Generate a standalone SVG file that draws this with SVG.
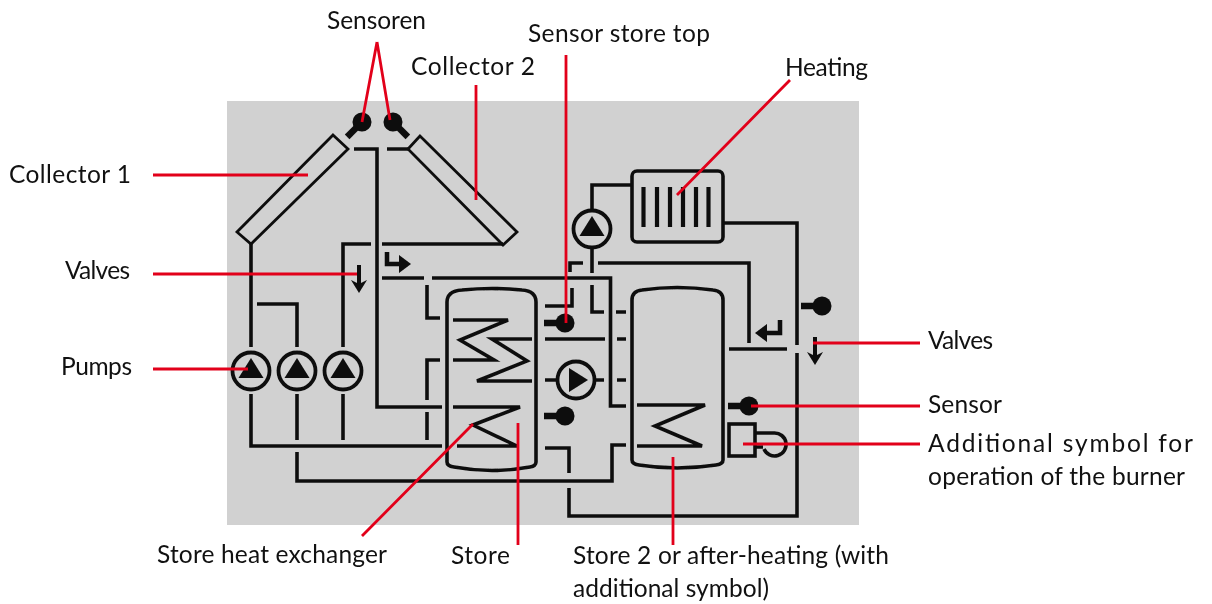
<svg xmlns="http://www.w3.org/2000/svg" width="1212" height="604" viewBox="0 0 1212 604">
<style>
.p{fill:none;stroke:#111;stroke-width:3.6}
.t{fill:none;stroke:#111;stroke-width:2.8}
.f{fill:#0a0a0a;stroke:none}
.s{fill:none;stroke:#0a0a0a;stroke-width:4}
.r{fill:none;stroke:#e2001a;stroke-width:2.8}
text{font-family:"Lato","Open Sans",sans-serif;font-size:24.5px;fill:#111}
</style>
<defs>
<filter id="b" x="-5%" y="-5%" width="110%" height="110%"><feGaussianBlur stdDeviation="0.55"/></filter>
<g id="pump"><circle r="18.500" fill="none" stroke="#111" stroke-width="3.800"/><path class="f" d="M0-13L12.500 7H-12.500Z"/></g>
<g id="sens"><circle r="9.500" class="f"/><path d="M0 0H-21" stroke="#0a0a0a" stroke-width="6.500" fill="none"/></g>
</defs>
<rect x="227" y="101" width="632" height="424" fill="#d1d1d1"/>
<g filter="url(#b)">
<g id="collector1"><path class="t" d="M333 135L348 149L251 244L237 232Z"/></g>
<g id="collector2"><path class="t" d="M420 136L408 149L503 245L517 232Z"/></g>
<g id="sensor-c1"><use href="#sens" transform="translate(362 122) rotate(-45)"/></g>
<g id="sensor-c2"><use href="#sens" transform="translate(393 122) rotate(225)"/></g>
<g id="sensor-store-top"><use href="#sens" transform="translate(565 323)"/></g>
<g id="sensor-store-mid"><use href="#sens" transform="translate(565 416)"/></g>
<g id="sensor-store2"><use href="#sens" transform="translate(749 406)"/></g>
<g id="sensor-right"><use href="#sens" transform="translate(822 306)"/></g>
<g id="pump1"><use href="#pump" x="251" y="371"/></g>
<g id="pump2"><use href="#pump" x="297" y="371"/></g>
<g id="pump3"><use href="#pump" x="343" y="371"/></g>
<g id="pump-heating"><use href="#pump" x="592" y="229"/></g>
<g id="pump-transfer"><circle cx="576" cy="380" r="18.500" fill="none" stroke="#111" stroke-width="3.800"/><path class="f" d="M569 368L588 380L569 392Z"/></g>
<g id="store"><path class="p" d="M447 462V302Q447 291 462 290Q492 287 522 290Q536 291 536 302V462Q536 466 530 467Q492 474 454 467Q447 466 447 462Z"/></g>
<g id="store2"><path class="p" d="M632 460V300Q632 291 642 290Q677 285 713 290Q723 291 723 300V460Q723 464 716 465Q677 471 639 465Q632 464 632 460Z"/></g>
<g id="heating"><rect x="632" y="171" width="91" height="71" rx="5" class="p"/><path class="p" d="M643.500 187V227M657 187V227M670 187V227M683 187V227M696 187V227M708.500 187V227" style="stroke-width:4.200"/></g>
<g id="burner"><rect x="729" y="424" width="26" height="32" class="p"/><path class="p" d="M755 433H774A11.500 11.500 0 1 1 764 449M755 447H763"/></g>
<g id="valve-left"><path class="s" d="M359 265V286"/><path class="f" d="M351 280L359 284L367 280L359 293Z"/></g>
<g id="valve-top"><path class="p" d="M387 252V264H402" style="stroke-width:4.500"/><path class="f" d="M399 255L411 264L399 273Z"/></g>
<g id="valve-right1"><path class="p" d="M780 320V333H764" style="stroke-width:4.500"/><path class="f" d="M767 324L755 333L767 342Z"/></g>
<g id="valve-right2"><path class="s" d="M815 337V358"/><path class="f" d="M807 352L815 356L823 352L815 365Z"/></g>
<g id="connectors-pipes">
<path class="p" d="M354 149H377V407H442M387 149H408"/>
<path class="p" d="M343 347V244H371M382 244H503"/>
<path class="p" d="M382 278H424M432 278H610.500V406H626M427 285V318H440"/>
<path class="p" d="M251 244V347M251 394V446H442M257 304H297V347M297 394V440M343 394V440"/>
<path class="p" d="M440 360H427V400M427 412V440"/>
<path class="p" d="M297 452V481H612V445H626"/>
<path class="p" d="M545 448H569V473M569 488V516H797V353M797 345V223H723"/>
<path class="p" d="M632 185H592V211M592 247V273M592 285V312H604M616 312H626"/>
<path class="p" d="M583 263H570V272M598 263H749V343M572 288V306H545"/>
<path class="p" d="M545 339H605M617 339H626M545 380H558M594 380H604M617 380H626"/>
<path class="p" d="M729 349H787"/>
<path class="p" d="M453 320H508L460 340L494 360H453M532 339H492L527 361L477 381H532"/>
<path class="p" d="M453 407H520L473 425L517 446H457"/>
<path class="p" d="M637 405H705L655 426L702 446H637"/>
</g>
</g>
<g id="leaders">
<path class="r" d="M377 42L362 122M377 42L390 120M476 85V200M153 175H308M153 274H357M153 369H248M362 536L473 424M518 423V545M566 55V323M790 80L677 195M813 343H920M751 406H920M743 444H920M673 457V545"/>
</g>
<g id="labels">
<text x="327" y="29" textLength="99">Sensoren</text>
<text x="411" y="75" textLength="124">Collector 2</text>
<text x="528" y="42" textLength="182">Sensor store top</text>
<text x="785" y="76" textLength="83">Heating</text>
<text x="9" y="183" textLength="122">Collector 1</text>
<text x="65" y="279" textLength="65">Valves</text>
<text x="61" y="375" textLength="71">Pumps</text>
<text x="928" y="349" textLength="65">Valves</text>
<text x="928" y="413" textLength="74">Sensor</text>
<text x="928" y="452" textLength="265">Additional symbol for</text>
<text x="928" y="485" textLength="257">operation of the burner</text>
<text x="157" y="563" textLength="230">Store heat exchanger</text>
<text x="451" y="564" textLength="59">Store</text>
<text x="573" y="564" textLength="316">Store 2 or after-heating (with</text>
<text x="573" y="597" textLength="196">additional symbol)</text>
</g>
</svg>
